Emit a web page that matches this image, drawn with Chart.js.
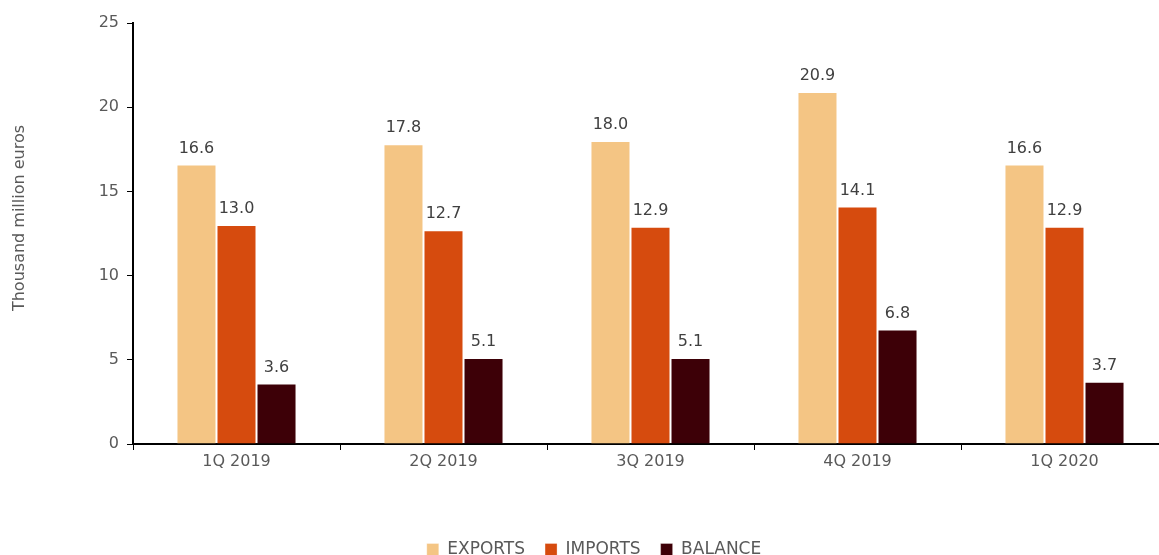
<!DOCTYPE html>
<html>
<head>
<meta charset="utf-8">
<script src="https://cdn.jsdelivr.net/npm/chart.js@4/dist/chart.umd.min.js"></script>
<style>
  html, body { margin: 0; padding: 0; background: #fff; overflow: hidden; }
  #wrap { position: relative; width: 1169px; height: 568px; }
</style>
</head>
<body>
<div id="wrap"><canvas id="canvas"></canvas></div>
<script>
const quarters = ['1Q 2019', '2Q 2019', '3Q 2019', '4Q 2019', '1Q 2020'];
const exportsData = [16.6, 17.8, 18.0, 20.9, 16.6];
const importsData = [13.0, 12.7, 12.9, 14.1, 12.9];
const balanceData = [3.6, 5.1, 5.1, 6.8, 3.7];
const yTitle = 'Thousand million euros';

const fontFam = '"DejaVu Sans", sans-serif';

// values drawn above each bar + rotated y title
const barValues = {
  id: 'barValues',
  afterDatasetsDraw(chart) {
    const c = chart.ctx;
    c.save();
    c.font = '16px ' + fontFam;
    c.fillStyle = '#404040';
    c.textAlign = 'center';
    c.textBaseline = 'bottom';
    chart.data.datasets.forEach((ds, i) => {
      chart.getDatasetMeta(i).data.forEach((bar, j) => {
        c.fillText(ds.data[j].toFixed(1), bar.x, bar.y - 8);
      });
    });
    c.restore();

    c.save();
    c.translate(20, 218);
    c.rotate(-Math.PI / 2);
    c.font = '16px ' + fontFam;
    c.fillStyle = '#595959';
    c.textAlign = 'center';
    c.textBaseline = 'middle';
    c.fillText(yTitle, 0, 0);
    c.restore();
  }
};

const ctx = document.getElementById('canvas').getContext('2d');

new Chart(ctx, {
  type: 'bar',
  data: {
    labels: quarters,
    datasets: [
      { label: 'EXPORTS', data: exportsData, backgroundColor: '#F4C584', borderColor: 'rgba(255,255,255,0.3)', borderWidth: 1 },
      { label: 'IMPORTS', data: importsData, backgroundColor: '#D64B0E', borderColor: 'rgba(255,255,255,0.3)', borderWidth: 1 },
      { label: 'BALANCE', data: balanceData, backgroundColor: '#3D0007', borderColor: 'rgba(255,255,255,0.3)', borderWidth: 1 }
    ]
  },
  options: {
    responsive: true,
    maintainAspectRatio: false,
    animation: false,
    categoryPercentage: 0.58,
    barPercentage: 1,
    layout: { padding: { top: 23, right: 1, left: 20, bottom: 0 } },
    scales: {
      x: {
        afterFit(scale) { scale.height = 77; },
        grid: {
          offset: true,
          drawOnChartArea: false,
          color: '#000',
          tickLength: 6
        },
        border: { color: '#000', width: 2 },
        ticks: { color: '#595959', font: { family: fontFam, size: 16 }, padding: 2 }
      },
      y: {
        min: 0,
        max: 25,
        afterFit(scale) { scale.width = 113; },
        grid: {
          drawOnChartArea: false,
          color: '#000',
          tickLength: 6
        },
        border: { color: '#000', width: 2 },
        ticks: { stepSize: 5, color: '#595959', font: { family: fontFam, size: 16 }, padding: 8 }
      }
    },
    plugins: {
      legend: {
        position: 'bottom',
        labels: {
          boxWidth: 12,
          boxHeight: 12,
          padding: 20,
          color: '#595959',
          font: { family: fontFam, size: 17 }
        }
      },
      tooltip: { enabled: false }
    }
  },
  plugins: [barValues]
});
</script>
</body>
</html>
